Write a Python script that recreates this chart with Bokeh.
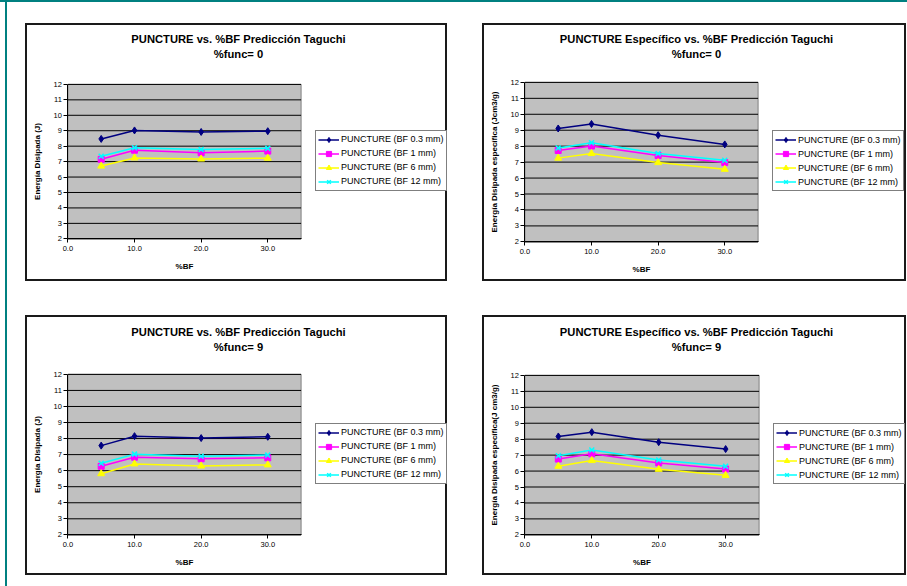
from bokeh.plotting import figure
from bokeh.models import Range1d, FixedTicker, Legend, LegendItem, Label, Spacer
from bokeh.layouts import row, column
from bokeh.embed import file_html
from bokeh.resources import INLINE

# ---------------- data ----------------
x_bf = [5, 10, 20, 30]

series_names = ["PUNCTURE (BF 0.3 mm)", "PUNCTURE (BF 1 mm)",
                "PUNCTURE (BF 6 mm)", "PUNCTURE (BF 12 mm)"]
series_colors = ["#000080", "#FF00FF", "#FFFF00", "#00FFFF"]
series_markers = ["diamond", "square", "triangle", "x"]

X_MIN, X_MAX = 0, 35
Y_MIN, Y_MAX = 2, 12
x_ticks = [0, 10, 20, 30]
x_tick_labels = ["0.0", "10.0", "20.0", "30.0"]
y_ticks = [2, 3, 4, 5, 6, 7, 8, 9, 10, 11, 12]

# panel 1: PUNCTURE vs %BF, %func = 0
p1_bf03 = [8.47, 9.02, 8.92, 8.97]
p1_bf1 = [7.15, 7.74, 7.57, 7.68]
p1_bf6 = [6.71, 7.24, 7.17, 7.22]
p1_bf12 = [7.35, 7.90, 7.79, 7.86]

# panel 2: PUNCTURE Especifico vs %BF, %func = 0
p2_bf03 = [9.11, 9.39, 8.69, 8.11]
p2_bf1 = [7.73, 8.01, 7.41, 6.97]
p2_bf6 = [7.25, 7.54, 6.97, 6.55]
p2_bf12 = [7.89, 8.22, 7.54, 7.12]

# panel 3: PUNCTURE vs %BF, %func = 9
p3_bf03 = [7.56, 8.15, 8.03, 8.11]
p3_bf1 = [6.27, 6.84, 6.74, 6.80]
p3_bf6 = [5.81, 6.42, 6.29, 6.36]
p3_bf12 = [6.46, 7.03, 6.90, 6.97]

# panel 4: PUNCTURE Especifico vs %BF, %func = 9
p4_bf03 = [8.17, 8.44, 7.81, 7.38]
p4_bf1 = [6.75, 7.08, 6.51, 6.13]
p4_bf6 = [6.30, 6.66, 6.11, 5.73]
p4_bf12 = [6.96, 7.32, 6.70, 6.30]

titles_1 = ["PUNCTURE vs. %BF Predicción Taguchi",
            "PUNCTURE Específico vs. %BF Predicción Taguchi",
            "PUNCTURE vs. %BF Predicción Taguchi",
            "PUNCTURE Específico vs. %BF Predicción Taguchi"]
titles_2 = ["%func= 0", "%func= 0", "%func= 9", "%func= 9"]
y_labels = ["Energía Disipada (J)",
            "Energía Disipada específica (Jcm3/g)",
            "Energía Disipada (J)",
            "Energía Disipada específica(J cm3/g)"]
x_label = "%BF"

FONT = "Liberation Sans"
BORDER = 2
LEG_H = 59


def make_panel(idx, series, W, H, L, FW, T, FH, t1_y, t2_y):
    # the frame covers the whole canvas; the plot area (X_MIN..X_MAX, Y_MIN..Y_MAX)
    # sits at L..L+FW horizontally and T..T+FH vertically (pixels from top-left)
    sx = (X_MAX - X_MIN) / FW
    sy = (Y_MAX - Y_MIN) / FH
    xr = Range1d(X_MIN - L * sx, X_MAX + (W - L - FW) * sx)
    yr = Range1d(Y_MIN - (H - T - FH) * sy, Y_MAX + T * sy)
    p = figure(width=W, height=H, output_backend="svg", toolbar_location=None,
               x_range=xr, y_range=yr, min_border=0,
               background_fill_color="white", border_fill_color="white",
               styles={"border": f"{BORDER}px solid #1a1a1a", "box-sizing": "content-box"})
    p.outline_line_color = None
    p.grid.visible = False

    # plot area and horizontal grid lines
    p.quad(left=[X_MIN], right=[X_MAX], bottom=[Y_MIN], top=[Y_MAX],
           fill_color="#C0C0C0", line_color="#808080", line_width=1)
    p.segment(x0=[X_MIN] * len(y_ticks), x1=[X_MAX] * len(y_ticks),
              y0=y_ticks, y1=y_ticks, line_color="black", line_width=1)

    xa, ya = p.xaxis[0], p.yaxis[0]
    xa.fixed_location = Y_MIN
    xa.bounds = (X_MIN, X_MAX)
    ya.fixed_location = X_MIN
    ya.bounds = (Y_MIN, Y_MAX)
    xa.ticker = FixedTicker(ticks=x_ticks)
    xa.major_label_overrides = {t: l for t, l in zip(x_ticks, x_tick_labels)}
    ya.ticker = FixedTicker(ticks=y_ticks)
    for ax in (xa, ya):
        ax.axis_line_color = "black"
        ax.major_tick_line_color = "black"
        ax.major_tick_out = 4
        ax.major_tick_in = 0
        ax.minor_tick_line_color = None
        ax.major_label_text_font = FONT
        ax.major_label_text_font_size = "7.5px"
        ax.major_label_text_color = "black"
        ax.axis_label_text_font = FONT
        ax.axis_label_text_font_size = "8px"
        ax.axis_label_text_font_style = "bold"
        ax.axis_label_text_color = "black"
    xa.major_label_standoff = 3
    xa.axis_label_standoff = 8
    ya.major_label_standoff = 2
    ya.axis_label_standoff = 8
    xa.axis_label = x_label
    ya.axis_label = y_labels[idx]

    items = []
    for vals, name, col, mk in zip(series, series_names, series_colors, series_markers):
        lr = p.line(x_bf, vals, line_color=col, line_width=1.5)
        sz = 7 if mk in ("diamond", "triangle", "x") else 6
        sr = p.scatter(x_bf, vals, marker=mk, size=sz, fill_color=col,
                       line_color=col, line_width=1.5 if mk == "x" else 1)
        items.append(LegendItem(label=name, renderers=[lr, sr]))

    leg_bottom = (H - T - FH) + FH / 2 - LEG_H / 2 + 2
    leg = Legend(items=items, location=(L + FW + 17, leg_bottom),
                 border_line_color="black", border_line_width=1,
                 background_fill_color="white", background_fill_alpha=1,
                 label_text_font=FONT, label_text_font_size="9px",
                 label_text_color="black",
                 glyph_width=21, glyph_height=13, label_height=13,
                 label_standoff=2, spacing=1, padding=2, margin=0)
    p.add_layout(leg)

    for txt, ty in ((titles_1[idx], t1_y), (titles_2[idx], t2_y)):
        p.add_layout(Label(x=W / 2, y=ty, x_units="canvas", y_units="canvas",
                           text=txt, text_align="center", text_baseline="middle",
                           text_font=FONT, text_font_size="11.2px", text_font_style="bold",
                           text_color="black"))
    return p


f1 = make_panel(0, [p1_bf03, p1_bf1, p1_bf6, p1_bf12], 418, 254, 40, 231, 58, 152, 11.5, 26)
f2 = make_panel(1, [p2_bf03, p2_bf1, p2_bf6, p2_bf12], 420, 254, 40, 231, 56, 157, 11.5, 26)
f3 = make_panel(2, [p3_bf03, p3_bf1, p3_bf6, p3_bf12], 418, 256, 40, 231, 56, 158, 12.5, 27)
f4 = make_panel(3, [p4_bf03, p4_bf1, p4_bf6, p4_bf12], 420, 256, 40, 232, 57, 157, 12.5, 27)

TEAL = "#008080"
top_strip = Spacer(width=907, height=2, styles={"background-color": TEAL})
left_strip = Spacer(width=2, height=584, styles={"background-color": TEAL})

layout = column(top_strip,
                row(Spacer(width=5, height=10), left_strip,
                    column(Spacer(width=10, height=21),
                           row(Spacer(width=18, height=10), f1, Spacer(width=35, height=10), f2),
                           Spacer(width=10, height=34),
                           row(Spacer(width=18, height=10), f3, Spacer(width=35, height=10), f4))))

open("out.html", "w").write(file_html(layout, INLINE))
